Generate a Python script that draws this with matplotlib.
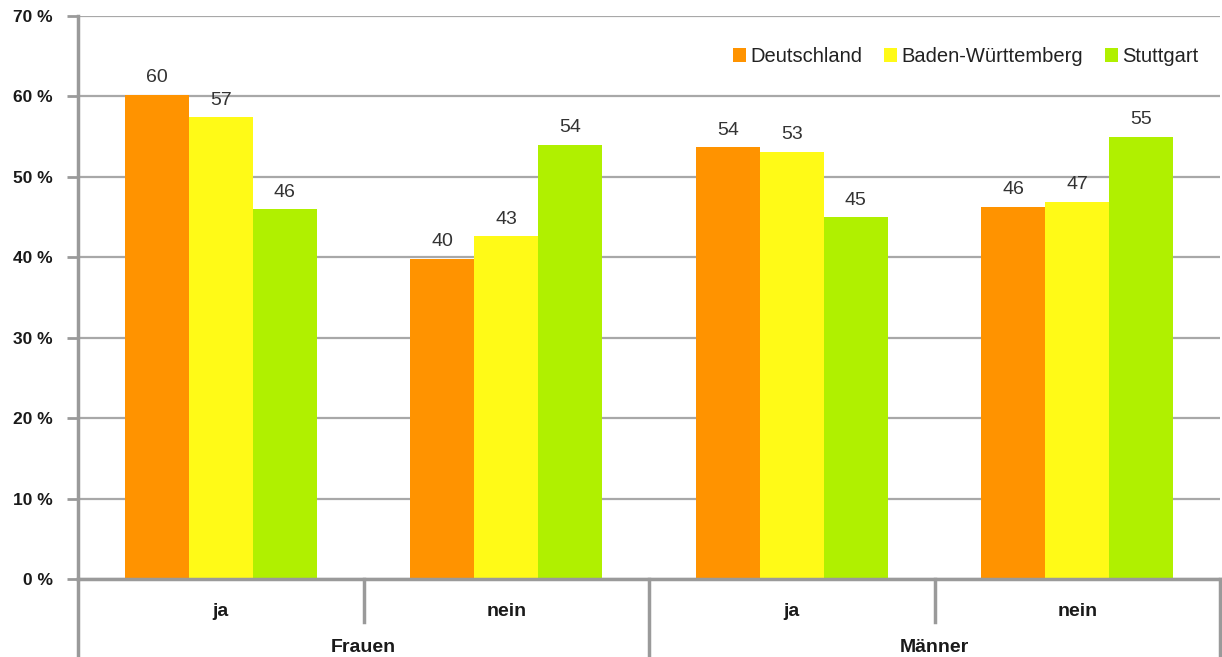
import matplotlib.pyplot as plt
import numpy as np

plt.rcParams['font.family'] = ['Liberation Sans', 'DejaVu Sans']

# Anteile in Prozent je Gruppe
groups = ["Frauen", "Männer"]
answers = ["ja", "nein", "ja", "nein"]
regions = ["Deutschland", "Baden-Württemberg", "Stuttgart"]
deutschland = [60.2, 39.8, 53.7, 46.3]
baden_wuerttemberg = [57.4, 42.6, 53.1, 46.9]
stuttgart = [46.0, 54.0, 45.0, 55.0]
yticks = [0, 10, 20, 30, 40, 50, 60, 70]

colors = ['#FF9300', '#FFFA17', '#B0F000']
series = [deutschland, baden_wuerttemberg, stuttgart]

fig = plt.figure(figsize=(12.22, 6.57), dpi=100)
ax = fig.add_axes([78 / 1222, 78 / 657, 1142 / 1222, 563 / 657])

x = np.arange(len(answers))
w = 0.224
for i, (vals, col, name) in enumerate(zip(series, colors, regions)):
    bars = ax.bar(x + (i - 1) * w, vals, w, color=col, label=name, zorder=3)
    for b, v in zip(bars, vals):
        ax.annotate(f"{v:.0f}", (b.get_x() + b.get_width() / 2, v),
                    xytext=(0, 9), textcoords='offset points',
                    ha='center', va='baseline', fontsize=14, color='#333333')

ax.set_xlim(-0.5, 3.5)
ax.set_ylim(0, 70)
ax.set_yticks(yticks)
ax.set_yticklabels([f"{t} %" for t in yticks], fontsize=12.5, fontweight='bold', color='#1a1a1a')
ax.tick_params(axis='y', direction='out', length=8, width=2, color='#9a9a9a', pad=10)
ax.set_xticks([])
ax.grid(axis='y', color='#a8a8a8', linewidth=1.6, zorder=0)
for s in ['top', 'right']:
    ax.spines[s].set_visible(False)
ax.spines['left'].set_color('#9a9a9a')
ax.spines['left'].set_linewidth(2.5)
ax.spines['bottom'].set_color('#9a9a9a')
ax.spines['bottom'].set_linewidth(2.5)
ax.spines['bottom'].set_zorder(4)

# zweistufige Kategorienachse
tr = ax.get_xaxis_transform()
for xs in [0.5, 2.5]:
    ax.plot([xs, xs], [0, -0.0764], transform=tr, color='#9a9a9a', lw=2.5, clip_on=False)
for xs in [-0.5, 1.5, 3.5]:
    ax.plot([xs, xs], [0, -0.2], transform=tr, color='#9a9a9a', lw=2.5, clip_on=False)
for xi, a in zip(x, answers):
    ax.text(xi, -0.057, a, transform=tr, ha='center', va='center',
            fontsize=14, fontweight='bold', color='#1a1a1a')
for gi, g in enumerate(groups):
    ax.text(0.5 + 2 * gi, -0.122, g, transform=tr, ha='center', va='center',
            fontsize=14, fontweight='bold', color='#1a1a1a')

ax.legend(loc='upper right', bbox_to_anchor=(0.997, 0.977), ncol=3, frameon=False,
          fontsize=14.5, handlelength=0.65, handleheight=0.65, handletextpad=0.2,
          columnspacing=1.1, labelcolor='#222222')

fig.savefig('out.png', dpi=100)
